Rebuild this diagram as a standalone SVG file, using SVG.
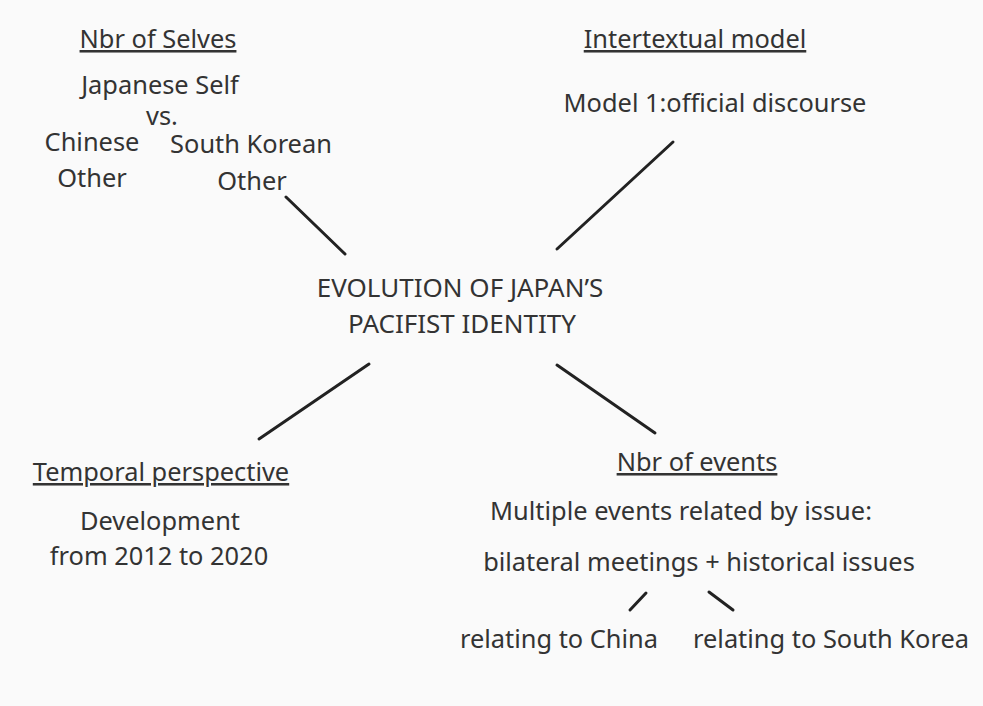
<svg xmlns="http://www.w3.org/2000/svg" width="983" height="706" viewBox="0 0 983 706">
<style>
text{font-family:"Noto Sans","Open Sans",sans-serif;font-size:25.4px;fill:#333;text-anchor:middle}
.u{text-decoration:underline}
.c{font-size:26px}
.ln{stroke:#222;stroke-width:3;stroke-linecap:round;fill:none}
</style>
<rect x="0" y="0" width="983" height="706" fill="#fafafa"/>
<g id="selves">
<text x="158" y="48" class="u">Nbr of Selves</text>
<text x="160" y="94">Japanese Self</text>
<text x="162" y="125">vs.</text>
<text x="92" y="151">Chinese</text>
<text x="251" y="153">South Korean</text>
<text x="92" y="187">Other</text>
<text x="252" y="190">Other</text>
</g>
<g id="intertextual">
<text x="695" y="48" class="u">Intertextual model</text>
<text x="715" y="112">Model 1:official discourse</text>
</g>
<g id="center">
<text x="460" y="297" class="c">EVOLUTION OF JAPAN’S</text>
<text x="462" y="333" class="c">PACIFIST IDENTITY</text>
</g>
<g id="temporal">
<text x="161" y="481" class="u">Temporal perspective</text>
<text x="160" y="530">Development</text>
<text x="159" y="565">from 2012 to 2020</text>
</g>
<g id="events">
<text x="697" y="471" class="u">Nbr of events</text>
<text x="681" y="520">Multiple events related by issue:</text>
<text x="699" y="571">bilateral meetings + historical issues</text>
</g>
<g id="china">
<text x="559" y="648">relating to China</text>
</g>
<g id="korea">
<text x="831" y="648">relating to South Korea</text>
</g>
<g id="connectors">
<line class="ln" x1="286" y1="197" x2="345" y2="254"/>
<line class="ln" x1="673" y1="142" x2="557" y2="249"/>
<line class="ln" x1="369" y1="364" x2="259" y2="439"/>
<line class="ln" x1="557" y1="365" x2="655" y2="433"/>
<line class="ln" x1="646" y1="593" x2="630" y2="610"/>
<line class="ln" x1="709" y1="592" x2="733" y2="610"/>
</g>
</svg>
